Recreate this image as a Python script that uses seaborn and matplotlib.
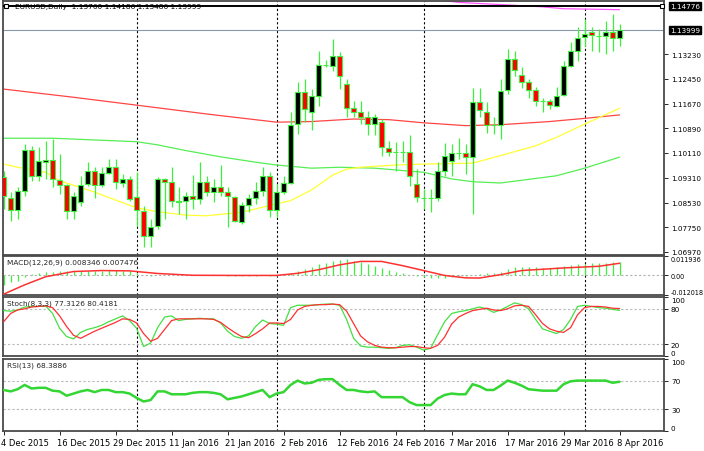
import matplotlib
matplotlib.use("Agg")
import matplotlib.pyplot as plt
import matplotlib.transforms as mtransforms
import seaborn as sns
import numpy as np

# ---------------------------------------------------------------------
# Data (4 Dec 2015 - 8 Apr 2016, 89 bars)

date_labels = ["4 Dec 2015", "16 Dec 2015", "29 Dec 2015", "11 Jan 2016",
               "21 Jan 2016", "2 Feb 2016", "12 Feb 2016", "24 Feb 2016",
               "7 Mar 2016", "17 Mar 2016", "29 Mar 2016", "8 Apr 2016"]
date_bars = [0, 8, 16, 24, 32, 40, 48, 56, 64, 72, 80, 88]
month_bars = [19, 39, 60, 83]

opens = [1.0934, 1.0867, 1.0829, 1.0890, 1.1020, 1.0937, 1.0982, 1.0988, 1.0925, 1.0909,
         1.0826, 1.0855, 1.0912, 1.0953, 1.0909, 1.0947, 1.0966, 1.0915, 1.0928, 1.0871,
         1.0826, 1.0747, 1.0779, 1.0928, 1.0918, 1.0858, 1.0858, 1.0874, 1.0864, 1.0918,
         1.0886, 1.0902, 1.0886, 1.0871, 1.0791, 1.0845, 1.0867, 1.0890, 1.0937, 1.0829,
         1.0886, 1.0915, 1.1102, 1.1204, 1.1140, 1.1191, 1.1289, 1.1286, 1.1318, 1.1229,
         1.1153, 1.1140, 1.1124, 1.1102, 1.1109, 1.1026, 1.1013, 1.1013, 1.1013, 1.0912,
         1.0867, 1.0867, 1.0867, 1.0953, 1.0985, 1.1010, 1.1010, 1.0998, 1.1172, 1.1140,
         1.1099, 1.1099, 1.1210, 1.1308, 1.1258, 1.1236, 1.1210, 1.1175, 1.1175, 1.1159,
         1.1194, 1.1286, 1.1334, 1.1378, 1.1394, 1.1381, 1.1381, 1.1394, 1.13760]
highs = [1.0953, 1.0886, 1.0902, 1.1039, 1.1032, 1.1029, 1.1048, 1.1055, 1.1007, 1.0912,
         1.0886, 1.0937, 1.0982, 1.0966, 1.0966, 1.0991, 1.0991, 1.0944, 1.0937, 1.0950,
         1.0842, 1.0801, 1.0934, 1.0931, 1.0966, 1.0902, 1.0886, 1.0940, 1.0982, 1.0937,
         1.0928, 1.0972, 1.0902, 1.0874, 1.0855, 1.0880, 1.0918, 1.0966, 1.0950, 1.0912,
         1.0937, 1.1140, 1.1236, 1.1245, 1.1213, 1.1334, 1.1305, 1.1372, 1.1331, 1.1245,
         1.1175, 1.1175, 1.1144, 1.1134, 1.1118, 1.1048, 1.1045, 1.1048, 1.1067, 1.0959,
         1.0896, 1.0896, 1.0982, 1.1042, 1.1039, 1.1058, 1.1039, 1.1216, 1.1216, 1.1172,
         1.1124, 1.1245, 1.1340, 1.1334, 1.1283, 1.1245, 1.1220, 1.1185, 1.1181, 1.1220,
         1.1302, 1.1362, 1.1410, 1.1435, 1.1410, 1.1404, 1.1429, 1.1451, 1.14186]
lows = [1.0833, 1.0794, 1.0801, 1.0874, 1.0921, 1.0921, 1.0928, 1.0902, 1.0880, 1.0801,
        1.0801, 1.0842, 1.0906, 1.0867, 1.0902, 1.0944, 1.0896, 1.0902, 1.0858, 1.0779,
        1.0712, 1.0712, 1.0769, 1.0801, 1.0839, 1.0817, 1.0801, 1.0833, 1.0848, 1.0874,
        1.0855, 1.0874, 1.0775, 1.0791, 1.0785, 1.0823, 1.0848, 1.0874, 1.0807, 1.0807,
        1.0880, 1.0912, 1.1071, 1.1109, 1.1083, 1.1159, 1.1283, 1.1270, 1.1213, 1.1124,
        1.1124, 1.1102, 1.1067, 1.1067, 1.1001, 1.1001, 1.0953, 1.0982, 1.0906, 1.0855,
        1.0833, 1.0823, 1.0858, 1.0937, 1.0937, 1.0991, 1.0944, 1.0817, 1.1124, 1.1074,
        1.1071, 1.1055, 1.1197, 1.1255, 1.1217, 1.1185, 1.1159, 1.1140, 1.1150, 1.1156,
        1.1191, 1.1283, 1.1302, 1.1350, 1.1334, 1.1331, 1.1324, 1.1334, 1.13486]
closes = [1.0874, 1.0829, 1.0890, 1.1020, 1.0937, 1.0985, 1.0988, 1.0928, 1.0909, 1.0826,
          1.0874, 1.0909, 1.0953, 1.0909, 1.0947, 1.0966, 1.0918, 1.0928, 1.0864, 1.0829,
          1.0747, 1.0775, 1.0928, 1.0918, 1.0858, 1.0856, 1.0874, 1.0864, 1.0918, 1.0886,
          1.0902, 1.0886, 1.0874, 1.0794, 1.0845, 1.0867, 1.0890, 1.0937, 1.0829, 1.0886,
          1.0915, 1.1099, 1.1204, 1.1150, 1.1191, 1.1289, 1.1288, 1.1318, 1.1255, 1.1153,
          1.1140, 1.1124, 1.1102, 1.1124, 1.1029, 1.1013, 1.1012, 1.1012, 1.0937, 1.0871,
          1.0866, 1.0866, 1.0953, 1.1001, 1.1010, 1.1009, 1.0998, 1.1172, 1.1147, 1.1099,
          1.1098, 1.1207, 1.1308, 1.1274, 1.1236, 1.1210, 1.1175, 1.1174, 1.1162, 1.1191,
          1.1286, 1.1334, 1.1375, 1.1388, 1.1385, 1.1380, 1.1394, 1.1375, 1.13999]

# moving averages (read at a few bars, joined by straight segments)
ma_red_bars = [0, 10, 19, 29, 39, 44, 50, 55, 60, 66, 71, 78, 83, 88]
ma_red = [1.1213, 1.1187, 1.1162, 1.1134, 1.1108, 1.1110, 1.1118, 1.1116, 1.1106,
          1.1097, 1.1100, 1.1110, 1.1120, 1.1131]
ma_green_bars = [0, 7, 19, 22, 26, 31, 36, 39, 44, 48, 53, 60, 64, 67, 71, 79, 83, 88]
ma_green = [1.1057, 1.1057, 1.1046, 1.1036, 1.1018, 1.0998, 1.0981, 1.0972, 1.0962,
            1.0965, 1.0962, 1.0949, 1.0928, 1.0919, 1.0915, 1.0938, 1.0962, 1.0997]
ma_yellow_bars = [0, 2, 6, 8, 13, 19, 22, 26, 29, 34, 37, 41, 44, 47, 49, 51, 56, 60,
                  67, 71, 76, 79, 83, 88]
ma_yellow = [1.0975, 1.0965, 1.0949, 1.0922, 1.0886, 1.0836, 1.0824, 1.0813, 1.0811,
             1.0822, 1.0838, 1.0859, 1.0893, 1.0940, 1.0959, 1.0965, 1.0972, 1.0975,
             1.0978, 1.1002, 1.1033, 1.1060, 1.1102, 1.1152]
ma_magenta_bars = [60, 65, 72, 77, 80, 88]
ma_magenta = [1.1502, 1.1488, 1.1480, 1.1474, 1.1468, 1.1465]

price_ticks = [1.13230, 1.12450, 1.11670, 1.10890, 1.10110, 1.09310, 1.08530, 1.07750, 1.06970]
price_labels = ["1.13230", "1.12450", "1.11670", "1.10890", "1.10110", "1.09310",
                "1.08530", "1.07750", "1.06970"]
hline_price = 1.14776
bid_price = 1.13999

macd_main = [-0.0060, -0.0042, -0.0035, -0.0012, 0.0006, 0.0012, 0.0020, 0.0024, 0.0026, 0.0026,
             0.0028, 0.0029, 0.0030, 0.0030, 0.0030, 0.0031, 0.0031, 0.0030, 0.0027, 0.0015,
             0.0004, -0.0005, 0.0002, 0.0005, 0.0003, 0.0002, 0.0001, 0.0001, 0.0003, 0.0003,
             0.0003, 0.0002, -0.0002, -0.0006, -0.0006, -0.0004, -0.0002, 0.0002, -0.0002, -0.0001,
             0.0002, 0.0016, 0.0030, 0.0040, 0.0054, 0.0068, 0.0078, 0.0090, 0.0096, 0.0098,
             0.0090, 0.0080, 0.0068, 0.0058, 0.0045, 0.0035, 0.0023, 0.0013, 0.0005, -0.0005,
             -0.0012, -0.0018, -0.0018, -0.0014, -0.0010, -0.0006, -0.0005, 0.0002, 0.0008, 0.0012,
             0.0016, 0.0024, 0.0040, 0.0050, 0.0052, 0.0050, 0.0049, 0.0048, 0.0048, 0.0050,
             0.0058, 0.0064, 0.0070, 0.0073, 0.0075, 0.0076, 0.0078, 0.0080, 0.008346]
macd_signal_bars = [0, 3, 6, 10, 14, 18, 22, 27, 33, 39, 42, 45, 48, 51, 54, 57, 60, 63,
                    66, 68, 71, 74, 80, 85, 88]
macd_signal = [-0.0115, -0.0058, -0.0008, 0.0024, 0.0030, 0.0028, 0.0012, 0.0001, 0.0000,
               0.0000, 0.0013, 0.0035, 0.0065, 0.0086, 0.0086, 0.0060, 0.0030, 0.0000,
               -0.0015, -0.0016, 0.0005, 0.0030, 0.0046, 0.0056, 0.007476]

stoch_k = [77, 76, 78, 83, 84, 84, 85, 72, 47, 33,
           29, 40, 45, 48, 52, 58, 63, 68, 60, 47,
           16, 22, 48, 66, 68, 60, 62, 63, 64, 63,
           63, 56, 42, 33, 30, 34, 50, 61, 55, 54,
           52, 82, 86, 86, 86, 87, 88, 88, 86, 62,
           30, 17, 15, 15, 14, 13, 14, 18, 19, 15,
           10, 13, 36, 58, 72, 75, 77, 80, 83, 80,
           74, 78, 84, 90, 87, 80, 62, 46, 42, 38,
           45, 62, 84, 86, 84, 82, 81, 79, 77.3126]
stoch_d = [58, 72, 78, 80, 83, 84, 85, 82, 68, 50,
           35, 30, 36, 42, 47, 52, 57, 63, 62, 56,
           38, 25, 30, 45, 60, 63, 63, 63, 63, 63,
           62, 57, 48, 40, 33, 31, 38, 46, 56, 56,
           55, 62, 78, 84, 86, 87, 87, 88, 87, 76,
           55, 34, 24, 18, 15, 14, 14, 15, 16, 16,
           14, 13, 18, 32, 54, 66, 72, 77, 79, 81,
           78, 77, 80, 85, 86, 84, 70, 55, 46, 42,
           40, 48, 70, 82, 84, 84, 83, 81, 80.4181]

rsi = [57, 55, 58, 64, 59, 60, 60, 56, 55, 49,
       52, 55, 57, 54, 57, 57, 54, 54, 52, 46,
       41, 43, 55, 55, 51, 51, 51, 53, 54, 54,
       53, 51, 44, 46, 48, 51, 54, 57, 47, 52,
       54, 64, 70, 66, 67, 71, 72, 72, 64, 57,
       57, 55, 54, 55, 47, 47, 47, 47, 40, 36,
       36, 36, 45, 50, 52, 51, 51, 65, 62, 57,
       57, 63, 70, 67, 63, 58, 57, 56, 56, 56,
       65, 69, 70, 70, 70, 70, 70, 67, 68.3886]

# ---------------------------------------------------------------------
sns.set_style("white")
plt.rcParams['font.family'] = ['DejaVu Sans']

LIME = '#3cf03c'
FS = 5.2      # right-hand scale labels
FS_T = 5.3    # panel titles
FS_D = 6.0    # date labels

fig = plt.figure(figsize=(7.04, 4.52), dpi=100)


def px_axes(x0, y0, x1, y1):
    return fig.add_axes([x0 / 704, 1 - y1 / 452, (x1 - x0) / 704, (y1 - y0) / 452])


ax = px_axes(3, 2, 664, 256)
ax_macd = px_axes(3, 257, 664, 296)
ax_sto = px_axes(3, 298, 664, 357)
ax_rsi = px_axes(3, 360, 664, 432)
axes = [ax, ax_macd, ax_sto, ax_rsi]

n = len(closes)
bars = np.arange(n)
xlim = ((3 - 3.6) / 7, (664 - 3.6) / 7)

for a in axes:
    a.set_xlim(*xlim)
    a.set_facecolor('white')
    for s in a.spines.values():
        s.set_color('#4a4a4a')
        s.set_linewidth(1.3)
    for b in month_bars:
        a.axvline(b, color='black', ls=(0, (2, 2)), lw=0.8, zorder=1)
    a.yaxis.tick_right()
    a.tick_params(axis='y', labelsize=FS, length=3, width=0.6, pad=2, colors='black')
    a.tick_params(axis='x', bottom=False, labelbottom=False)

# --- main price panel ------------------------------------------------
ax.set_ylim(1.06865, 1.14925)
o = np.array(opens)
c = np.array(closes)
up = c >= o
ax.vlines(bars, lows, highs, color=LIME, lw=0.9, zorder=3)
ax.bar(bars, np.abs(c - o), bottom=np.minimum(o, c), width=0.62,
       color=np.where(up, 'black', 'red'), edgecolor=LIME, linewidth=0.8, zorder=4)

sns.lineplot(x=ma_red_bars, y=ma_red, ax=ax, color='#ff4545', lw=0.9, zorder=2)
sns.lineplot(x=ma_green_bars, y=ma_green, ax=ax, color='#55ee55', lw=0.9, zorder=2)
sns.lineplot(x=ma_yellow_bars, y=ma_yellow, ax=ax, color='#ffff33', lw=0.9, zorder=2)
sns.lineplot(x=ma_magenta_bars, y=ma_magenta, ax=ax, color='#ff55ff', lw=0.9, zorder=2)

ax.axhline(bid_price, color='#8898aa', lw=0.8, zorder=1)
ax.axhline(hline_price, color='black', lw=1.4, zorder=5)
ax.plot([xlim[1] - 0.35], [hline_price], marker='s', ms=2.6, mfc='white', mec='black',
        mew=0.8, zorder=6, clip_on=False)

ax.set_yticks(price_ticks)
ax.set_yticklabels(price_labels)
trans = mtransforms.blended_transform_factory(ax.transAxes, ax.transData)
for val, txt in [(hline_price, "1.14776"), (bid_price, "1.13999")]:
    ax.text(1.009, val, txt, transform=trans, fontsize=FS, color='white', va='center',
            ha='left', bbox=dict(boxstyle='square,pad=0.15', fc='black', ec='black'))
ax.plot([0.004], [0.981], marker='s', ms=2.5, mfc='white', mec='black', mew=0.8,
        transform=ax.transAxes, zorder=7)
ax.text(0.018, 0.981, "EURUSD,Daily  1.13760 1.14186 1.13486 1.13999", transform=ax.transAxes,
        fontsize=FS_T, va='center', ha='left', color='black', zorder=7)

# --- MACD --------------------------------------------------------------
ax_macd.set_ylim(-0.012018, 0.011936)
ax_macd.axhline(0, color='#b0b0b0', ls=(0, (2, 2)), lw=0.8, zorder=1)
ax_macd.vlines(bars, 0, macd_main, color=LIME, lw=0.9, zorder=2)
sns.lineplot(x=macd_signal_bars, y=macd_signal, ax=ax_macd, color='#ff3030', lw=1.1, zorder=3)
ax_macd.set_yticks([0.011936, 0.0, -0.012018])
ax_macd.set_yticklabels(["0.011936", "0.00", "-0.012018"])
ax_macd.tick_params(axis='y', labelsize=4.7, pad=1.5)
labs = ax_macd.get_yticklabels()
labs[0].set_va('top')
labs[2].set_va('bottom')
ax_macd.text(0.006, 0.93, "MACD(12,26,9) 0.008346 0.007476", transform=ax_macd.transAxes,
             fontsize=FS_T, va='top', ha='left')

# --- Stochastic ----------------------------------------------------------
ax_sto.set_ylim(0, 100)
for lv in (80, 20):
    ax_sto.axhline(lv, color='#b8b8b8', ls=(0, (2, 2)), lw=0.8, zorder=1)
sns.lineplot(x=bars, y=stoch_k, ax=ax_sto, color='#44e044', lw=0.9, zorder=3)
sns.lineplot(x=bars, y=stoch_d, ax=ax_sto, color='#ff3030', lw=0.9, zorder=3)
ax_sto.set_yticks([100, 80, 20, 0])
ax_sto.set_yticklabels(["100", "80", "20", "0"])
labs = ax_sto.get_yticklabels()
labs[0].set_va('top')
labs[3].set_va('bottom')
ax_sto.text(0.006, 0.96, "Stoch(8,3,3) 77.3126 80.4181", transform=ax_sto.transAxes,
            fontsize=FS_T, va='top', ha='left')

# --- RSI ---------------------------------------------------------------------
ax_rsi.set_ylim(0, 100)
for lv in (70, 30):
    ax_rsi.axhline(lv, color='#b8b8b8', ls=(0, (2, 2)), lw=0.8, zorder=1)
sns.lineplot(x=bars, y=rsi, ax=ax_rsi, color='#33d633', lw=1.8, zorder=3)
ax_rsi.set_yticks([100, 70, 30, 0])
ax_rsi.set_yticklabels(["100", "70", "30", "0"])
labs = ax_rsi.get_yticklabels()
labs[0].set_va('top')
labs[3].set_va('bottom')
ax_rsi.text(0.006, 0.96, "RSI(13) 68.3886", transform=ax_rsi.transAxes,
            fontsize=FS_T, va='top', ha='left')

ax_rsi.tick_params(axis='x', bottom=True, labelbottom=True, length=3, width=0.6,
                   labelsize=FS_D, pad=2, colors='black')
ax_rsi.set_xticks(date_bars)
ax_rsi.set_xticklabels(date_labels, ha='left')
shift = mtransforms.ScaledTranslation(-3 / 100, 0, fig.dpi_scale_trans)
for lbl in ax_rsi.get_xticklabels():
    lbl.set_transform(lbl.get_transform() + shift)

for a in axes:
    a.set_xlabel('')
    a.set_ylabel('')
    a.set_xlim(*xlim)

fig.savefig("out.png", dpi=100, facecolor='white')
